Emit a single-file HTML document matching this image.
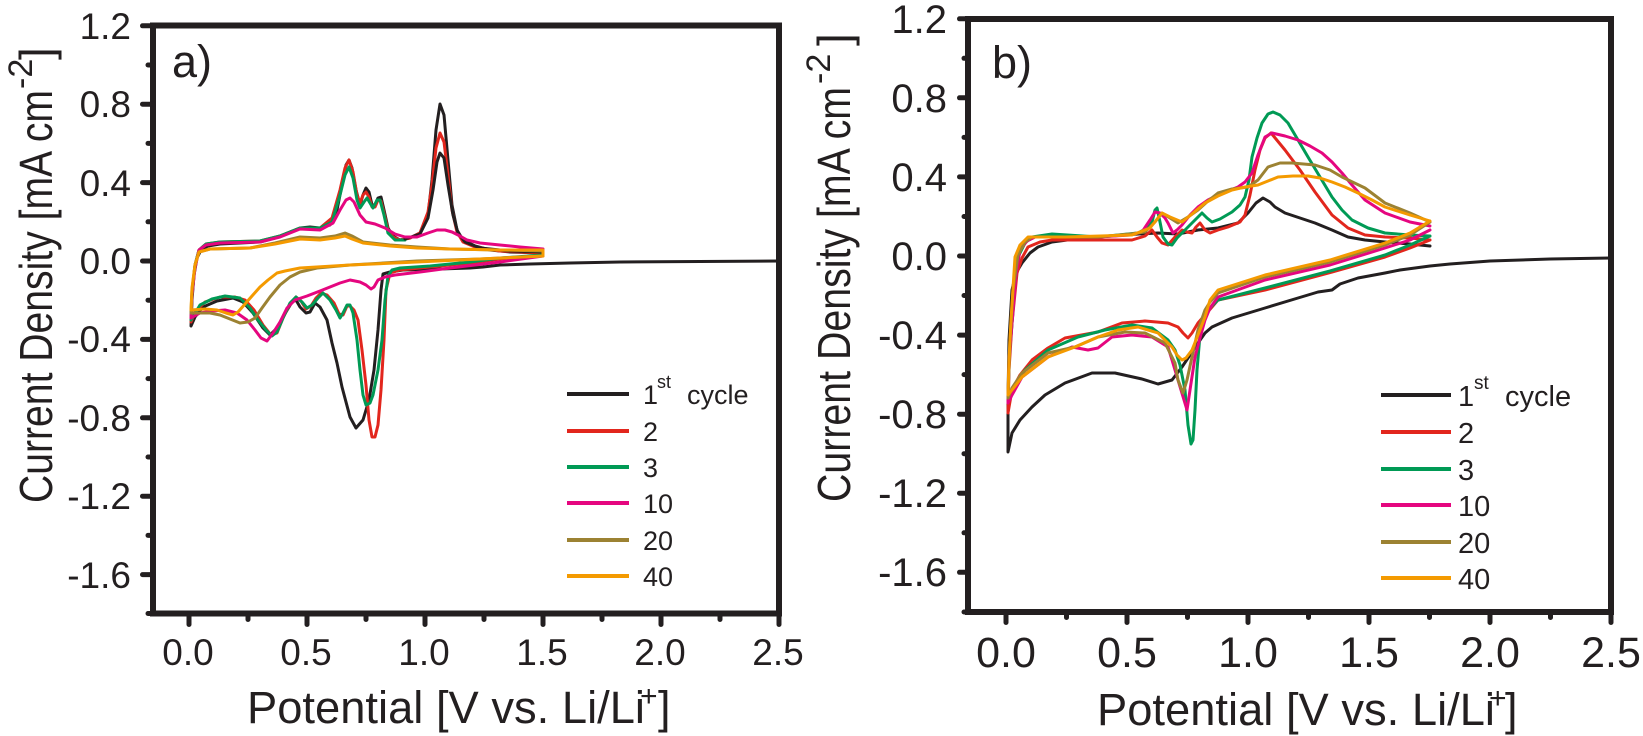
<!DOCTYPE html>
<html><head><meta charset="utf-8"><style>
html,body{margin:0;padding:0;background:#fff;}
svg{display:block;}
text{font-family:"Liberation Sans",Arial,sans-serif;fill:#231f20;}
.c{fill:none;stroke-width:3;stroke-linejoin:round;stroke-linecap:round;}
.k{stroke:#231f20}.r{stroke:#e2261d}.g{stroke:#009a55}.m{stroke:#e5067f}.o{stroke:#9c8232}.y{stroke:#f49a00}
.ax{fill:none;stroke:#231f20;stroke-width:6;}
.tk{stroke:#231f20;stroke-width:5;stroke-linecap:round;}
.lg{stroke-width:4;}
</style></head><body>
<svg width="1643" height="736" viewBox="0 0 1643 736" xmlns="http://www.w3.org/2000/svg">
<rect width="1643" height="736" fill="#fff"/>

<!-- ================= PANEL A ================= -->
<g>
<!-- curves -->
<polyline class="c k" points="779,261 700,261.5 620,262 570,263 530,264 500,265 483,267 470,268 440,269 420,269.5 403,270 390,272 383,274 381,290 378,330 374,370 369,400 363,420 356,428 350,417 342,387 337,363 332,343 327,320 320,307 315,303 310,312 306,313 300,307 296,300 292,302 283,317 277,328 270,335 263,328 253,313 243,302 233,298 217,301 203,307 195,317 191,326 192,300 194,275 197,258 201,250 208,246 220,244 240,243 260,242 275,238 290,232 300,228 310,227 320,228 330,225 337,210 342,185 346,165 349,160 352,168 356,190 360,205 363,195 366,188 369,192 372,205 375,205 378,198 381,197 384,210 388,228 393,236 400,240 410,238 420,233 428,215 432,180 436,130 440,104 444,115 448,160 452,205 457,230 463,240 475,246 490,250 510,252 543,253"/>
<polyline class="c r" points="543,255 500,259 470,263 430,267 400,270 390,273 386,290 384,340 381,390 378,425 375,437 372,437 369,420 366,385 362,350 358,320 354,310 350,306 347,306 343,315 339,314 334,303 327,295 321,293 316,298 311,306 306,309 301,301 296,297 290,304 283,318 277,333 271,335 263,325 254,310 245,300 235,297 220,297 205,302 195,312 191,322 192,295 195,265 199,250 206,244 220,242 260,241 280,236 300,228 320,228 332,218 340,190 345,168 349,160 353,172 357,195 360,203 363,195 366,192 369,197 372,207 375,207 378,200 381,201 384,213 388,230 393,237 400,240 410,238 420,233 428,212 432,185 436,148 440,133 444,142 448,175 452,210 457,232 463,242 475,247 500,251 543,253"/>
<polyline class="c g" points="543,255 500,258 470,262 430,266 400,268 392,270 388,276 385,300 382,340 378,370 373,395 370,403 366,405 363,395 360,370 357,340 353,313 350,305 347,305 343,313 340,318 336,310 330,300 323,293 318,298 312,305 307,308 302,302 296,297 290,303 283,318 277,332 272,336 266,330 258,320 250,308 240,298 225,296 212,299 200,305 191,320 192,295 195,265 199,250 206,244 220,242 260,241 280,236 300,228 320,228 332,222 340,195 345,175 349,167 353,178 357,200 360,208 364,202 367,198 370,203 373,208 377,200 380,200 384,215 388,233 395,240 405,240"/>
<polyline class="c k" points="405,239 420,234 428,218 433,190 437,162 440,153 444,158 448,185 453,215 458,233 465,242 480,248 510,251 543,252"/>
<polyline class="c m" points="191,318 192,295 195,268 199,250 206,245 220,243 260,242 280,237 300,229 320,230 333,223 340,210 346,200 350,198 354,202 360,215 366,222 375,224 385,228 395,234 405,237 417,237 428,233 437,230 445,230 452,232 460,236 467,240 480,243 500,245 520,247 543,249 543,256 500,262 450,268 420,272 395,275 385,277 378,280 374,287 371,289 366,285 360,282 350,280 340,283 330,287 320,291 307,296 295,300 287,308 280,322 273,333 267,341 261,338 255,330 247,320 237,313 225,310 212,311 200,313 191,318"/>
<polyline class="c o" points="191,313 192,290 195,265 199,252 210,249 250,248 275,243 300,237 320,238 335,236 345,233 352,236 363,242 390,245 417,247 450,249 500,250 543,251 543,256 480,259 417,261 350,265 317,268 300,272 290,277 280,285 270,297 262,308 255,318 248,322 240,323 230,319 220,315 210,313 200,313 191,313"/>
<polyline class="c y" points="191,310 192,288 195,265 199,252 210,249 250,248 275,244 300,239 320,240 335,238 345,236 352,239 363,243 390,246 417,248 450,249 500,250 543,250 543,256 480,259 417,262 350,265 300,268 285,271 277,273 268,280 260,287 252,296 245,304 238,312 233,315 226,313 217,310 205,309 191,310"/>

<!-- frame -->
<rect class="ax" x="153" y="25.5" width="626" height="588"/>
<!-- y ticks -->
<g class="tk">
<line x1="153" y1="25.8" x2="142.5" y2="25.8"/>
<line x1="153" y1="65" x2="148" y2="65"/>
<line x1="153" y1="104.2" x2="142.5" y2="104.2"/>
<line x1="153" y1="143.4" x2="148" y2="143.4"/>
<line x1="153" y1="182.6" x2="142.5" y2="182.6"/>
<line x1="153" y1="221.8" x2="148" y2="221.8"/>
<line x1="153" y1="261" x2="142.5" y2="261"/>
<line x1="153" y1="300.2" x2="148" y2="300.2"/>
<line x1="153" y1="339.4" x2="142.5" y2="339.4"/>
<line x1="153" y1="378.6" x2="148" y2="378.6"/>
<line x1="153" y1="417.8" x2="142.5" y2="417.8"/>
<line x1="153" y1="457" x2="148" y2="457"/>
<line x1="153" y1="496.2" x2="142.5" y2="496.2"/>
<line x1="153" y1="535.4" x2="148" y2="535.4"/>
<line x1="153" y1="574.6" x2="142.5" y2="574.6"/>
<line x1="153" y1="613.5" x2="148" y2="613.5"/>
<!-- x ticks -->
<line x1="189" y1="613.5" x2="189" y2="624.5"/>
<line x1="248" y1="613.5" x2="248" y2="619.5"/>
<line x1="307" y1="613.5" x2="307" y2="624.5"/>
<line x1="366" y1="613.5" x2="366" y2="619.5"/>
<line x1="425" y1="613.5" x2="425" y2="624.5"/>
<line x1="484" y1="613.5" x2="484" y2="619.5"/>
<line x1="543" y1="613.5" x2="543" y2="624.5"/>
<line x1="602" y1="613.5" x2="602" y2="619.5"/>
<line x1="661" y1="613.5" x2="661" y2="624.5"/>
<line x1="720" y1="613.5" x2="720" y2="619.5"/>
<line x1="779" y1="613.5" x2="779" y2="624.5"/>
</g>
<!-- y labels -->
<g font-size="37" text-anchor="end">
<text x="131" y="39">1.2</text>
<text x="131" y="117">0.8</text>
<text x="131" y="196">0.4</text>
<text x="131" y="274">0.0</text>
<text x="131" y="352">-0.4</text>
<text x="131" y="431">-0.8</text>
<text x="131" y="509">-1.2</text>
<text x="131" y="588">-1.6</text>
</g>
<!-- x labels -->
<g font-size="37" text-anchor="middle">
<text x="188" y="665">0.0</text>
<text x="306" y="665">0.5</text>
<text x="424" y="665">1.0</text>
<text x="542" y="665">1.5</text>
<text x="660" y="665">2.0</text>
<text x="778" y="665">2.5</text>
</g>
<!-- axis titles -->
<text x="247" y="723" font-size="45" textLength="398" lengthAdjust="spacingAndGlyphs">Potential [V vs. Li/Li</text>
<text x="640" y="706" font-size="30">+</text>
<text x="658" y="723" font-size="45">]</text>
<text transform="translate(52,503) rotate(-90)" font-size="46" textLength="413" lengthAdjust="spacingAndGlyphs">Current Density [mA cm</text>
<text transform="translate(32,89) rotate(-90)" font-size="34">-2</text>
<text transform="translate(52,60) rotate(-90)" font-size="46">]</text>
<!-- panel label -->
<text x="172" y="77" font-size="45">a)</text>
<!-- legend -->
<line class="lg" x1="567" y1="394" x2="629" y2="394" stroke="#231f20"/>
<line class="lg" x1="567" y1="431" x2="629" y2="431" stroke="#e2261d"/>
<line class="lg" x1="567" y1="467" x2="629" y2="467" stroke="#009a55"/>
<line class="lg" x1="567" y1="503" x2="629" y2="503" stroke="#e5067f"/>
<line class="lg" x1="567" y1="540" x2="629" y2="540" stroke="#9c8232"/>
<line class="lg" x1="567" y1="576" x2="629" y2="576" stroke="#f49a00"/>
<g font-size="27">
<text x="643" y="404">1</text>
<text x="657" y="388" font-size="18">st</text>
<text x="687" y="404">cycle</text>
<text x="643" y="441">2</text>
<text x="643" y="477">3</text>
<text x="643" y="513">10</text>
<text x="643" y="550">20</text>
<text x="643" y="586">40</text>
</g>
</g>

<!-- ================= PANEL B ================= -->
<g>
<polyline class="c k" points="1611,258 1550,259 1490,261 1450,264 1430,266 1400,270 1385,273 1358,278 1340,284 1332,290 1318,292 1298,298 1265,308 1232,318 1212,327 1205,333 1198,343 1190,355 1182,367 1172,380 1158,384 1142,379 1115,373 1092,373 1065,383 1045,395 1032,407 1020,420 1012,433 1008,452 1008,400 1009,340 1012,290 1016,273 1022,263 1030,253 1038,247 1052,242 1075,239 1098,237 1138,234 1158,233 1178,234 1198,230 1218,228 1238,223 1248,213 1256,203 1263,198 1270,202 1275,207 1285,213 1300,218 1315,223 1332,230 1348,237 1365,240 1385,242 1410,244 1430,246"/>
<polyline class="c r" points="1430,240 1410,248 1385,257 1332,272 1265,290 1218,300 1212,307 1205,315 1198,323 1192,333 1188,338 1183,333 1178,327 1168,323 1145,321 1122,323 1098,332 1065,338 1048,348 1032,360 1020,375 1012,390 1008,413 1009,370 1012,323 1017,273 1022,258 1028,247 1040,242 1052,240 1098,240 1132,240 1145,236 1152,230 1157,237 1162,243 1168,245 1175,237 1182,230 1187,232 1192,233 1196,227 1200,223 1205,230 1210,233 1218,230 1228,227 1240,222 1245,215 1250,195 1255,170 1260,150 1265,138 1271,133 1285,150 1300,170 1315,192 1332,215 1348,228 1365,235 1385,237 1410,238 1430,240"/>
<polyline class="c g" points="1430,236 1410,245 1385,255 1330,271 1265,288 1218,300 1210,308 1205,317 1200,335 1197,370 1195,410 1193,440 1191,444 1188,425 1185,390 1180,365 1175,350 1168,340 1152,328 1132,325 1105,330 1078,337 1048,350 1025,370 1012,390 1008,402 1009,360 1012,323 1015,285 1018,257 1025,243 1032,237 1052,234 1098,237 1138,233 1147,228 1152,222 1155,210 1157,208 1160,222 1163,237 1168,244 1172,245 1177,238 1182,233 1192,223 1197,218 1202,213 1207,218 1212,222 1220,219 1232,212 1240,205 1245,197 1249,180 1252,157 1257,138 1262,123 1268,114 1273,112 1280,115 1288,123 1298,140 1308,157 1320,177 1332,197 1342,210 1352,220 1368,228 1385,233 1410,235 1430,236"/>
<polyline class="c m" points="1430,230 1410,240 1385,248 1330,265 1265,280 1218,297 1210,308 1205,320 1200,338 1195,357 1190,390 1187,410 1184,400 1178,380 1172,360 1168,347 1152,337 1132,335 1112,337 1098,348 1088,350 1072,347 1048,357 1022,377 1012,395 1008,403 1009,360 1012,323 1016,275 1020,250 1027,241 1035,237 1060,237 1098,237 1130,235 1142,232 1150,220 1155,212 1160,213 1165,218 1168,223 1173,233 1177,230 1182,225 1190,215 1198,207 1208,200 1218,195 1228,191 1238,187 1245,182 1252,173 1258,155 1265,137 1272,133 1285,136 1298,140 1310,146 1322,153 1332,162 1342,173 1352,185 1365,200 1385,213 1410,222 1430,226"/>
<polyline class="c o" points="1430,222 1410,235 1385,245 1330,262 1265,277 1218,293 1210,302 1205,310 1198,330 1192,357 1187,380 1183,393 1178,380 1175,363 1165,343 1145,333 1125,332 1098,337 1075,347 1048,353 1022,373 1012,388 1008,398 1009,370 1010,340 1013,290 1018,255 1025,242 1032,237 1060,237 1098,237 1130,234 1145,232 1155,222 1162,213 1170,218 1178,223 1188,217 1198,210 1208,201 1218,193 1232,189 1248,187 1258,180 1268,167 1280,163 1292,163 1315,165 1330,170 1342,177 1365,188 1385,203 1410,213 1430,222"/>
<polyline class="c y" points="1430,221 1410,233 1385,243 1330,260 1265,275 1218,290 1210,300 1205,317 1198,335 1192,350 1186,358 1182,360 1177,355 1172,347 1165,340 1158,333 1138,327 1118,330 1098,337 1075,347 1048,357 1022,377 1012,390 1008,395 1009,360 1011,320 1015,257 1020,245 1028,237 1045,237 1065,237 1100,236 1132,235 1150,228 1162,213 1170,217 1182,222 1192,214 1205,203 1218,196 1232,190 1245,187 1258,185 1268,181 1278,177 1293,176 1308,176 1320,178 1332,182 1345,187 1358,193 1372,200 1385,207 1410,215 1430,221"/>

<rect class="ax" x="968" y="19" width="643" height="593"/>
<g class="tk">
<line x1="968" y1="18.8" x2="959.5" y2="18.8"/>
<line x1="968" y1="58.3" x2="964" y2="58.3"/>
<line x1="968" y1="97.8" x2="959.5" y2="97.8"/>
<line x1="968" y1="137.4" x2="964" y2="137.4"/>
<line x1="968" y1="176.9" x2="959.5" y2="176.9"/>
<line x1="968" y1="216.5" x2="964" y2="216.5"/>
<line x1="968" y1="256" x2="959.5" y2="256"/>
<line x1="968" y1="295.5" x2="964" y2="295.5"/>
<line x1="968" y1="335.1" x2="959.5" y2="335.1"/>
<line x1="968" y1="374.6" x2="964" y2="374.6"/>
<line x1="968" y1="414.2" x2="959.5" y2="414.2"/>
<line x1="968" y1="453.7" x2="964" y2="453.7"/>
<line x1="968" y1="493.2" x2="959.5" y2="493.2"/>
<line x1="968" y1="532.8" x2="964" y2="532.8"/>
<line x1="968" y1="572.3" x2="959.5" y2="572.3"/>
<line x1="968" y1="612" x2="964" y2="612"/>
<line x1="1006" y1="612" x2="1006" y2="622.5"/>
<line x1="1066.5" y1="612" x2="1066.5" y2="617.5"/>
<line x1="1127" y1="612" x2="1127" y2="622.5"/>
<line x1="1187.5" y1="612" x2="1187.5" y2="617.5"/>
<line x1="1248" y1="612" x2="1248" y2="622.5"/>
<line x1="1308.5" y1="612" x2="1308.5" y2="617.5"/>
<line x1="1369" y1="612" x2="1369" y2="622.5"/>
<line x1="1429.5" y1="612" x2="1429.5" y2="617.5"/>
<line x1="1490" y1="612" x2="1490" y2="622.5"/>
<line x1="1550.5" y1="612" x2="1550.5" y2="617.5"/>
<line x1="1611" y1="612" x2="1611" y2="622.5"/>
</g>
<g font-size="40" text-anchor="end">
<text x="947" y="33">1.2</text>
<text x="947" y="112">0.8</text>
<text x="947" y="191">0.4</text>
<text x="947" y="270">0.0</text>
<text x="947" y="349">-0.4</text>
<text x="947" y="428">-0.8</text>
<text x="947" y="507">-1.2</text>
<text x="947" y="586">-1.6</text>
</g>
<g font-size="43" text-anchor="middle">
<text x="1006" y="667">0.0</text>
<text x="1127" y="667">0.5</text>
<text x="1248" y="667">1.0</text>
<text x="1369" y="667">1.5</text>
<text x="1490" y="667">2.0</text>
<text x="1611" y="667">2.5</text>
</g>
<text x="1097" y="725" font-size="45" textLength="398" lengthAdjust="spacingAndGlyphs">Potential [V vs. Li/Li</text>
<text x="1489" y="708" font-size="30">+</text>
<text x="1505" y="725" font-size="45">]</text>
<text transform="translate(850,502) rotate(-90)" font-size="46" textLength="415" lengthAdjust="spacingAndGlyphs">Current Density [mA cm</text>
<text transform="translate(830,84) rotate(-90)" font-size="34">-2</text>
<text transform="translate(850,46) rotate(-90)" font-size="46">]</text>
<text x="992" y="78" font-size="45">b)</text>
<line class="lg" x1="1381" y1="395" x2="1451" y2="395" stroke="#231f20"/>
<line class="lg" x1="1381" y1="432" x2="1451" y2="432" stroke="#e2261d"/>
<line class="lg" x1="1381" y1="469" x2="1451" y2="469" stroke="#009a55"/>
<line class="lg" x1="1381" y1="505" x2="1451" y2="505" stroke="#e5067f"/>
<line class="lg" x1="1381" y1="542" x2="1451" y2="542" stroke="#9c8232"/>
<line class="lg" x1="1381" y1="578" x2="1451" y2="578" stroke="#f49a00"/>
<g font-size="29">
<text x="1458" y="406">1</text>
<text x="1474" y="389" font-size="19">st</text>
<text x="1505" y="406">cycle</text>
<text x="1458" y="443">2</text>
<text x="1458" y="480">3</text>
<text x="1458" y="516">10</text>
<text x="1458" y="553">20</text>
<text x="1458" y="589">40</text>
</g>
</g>
</svg>
</body></html>
